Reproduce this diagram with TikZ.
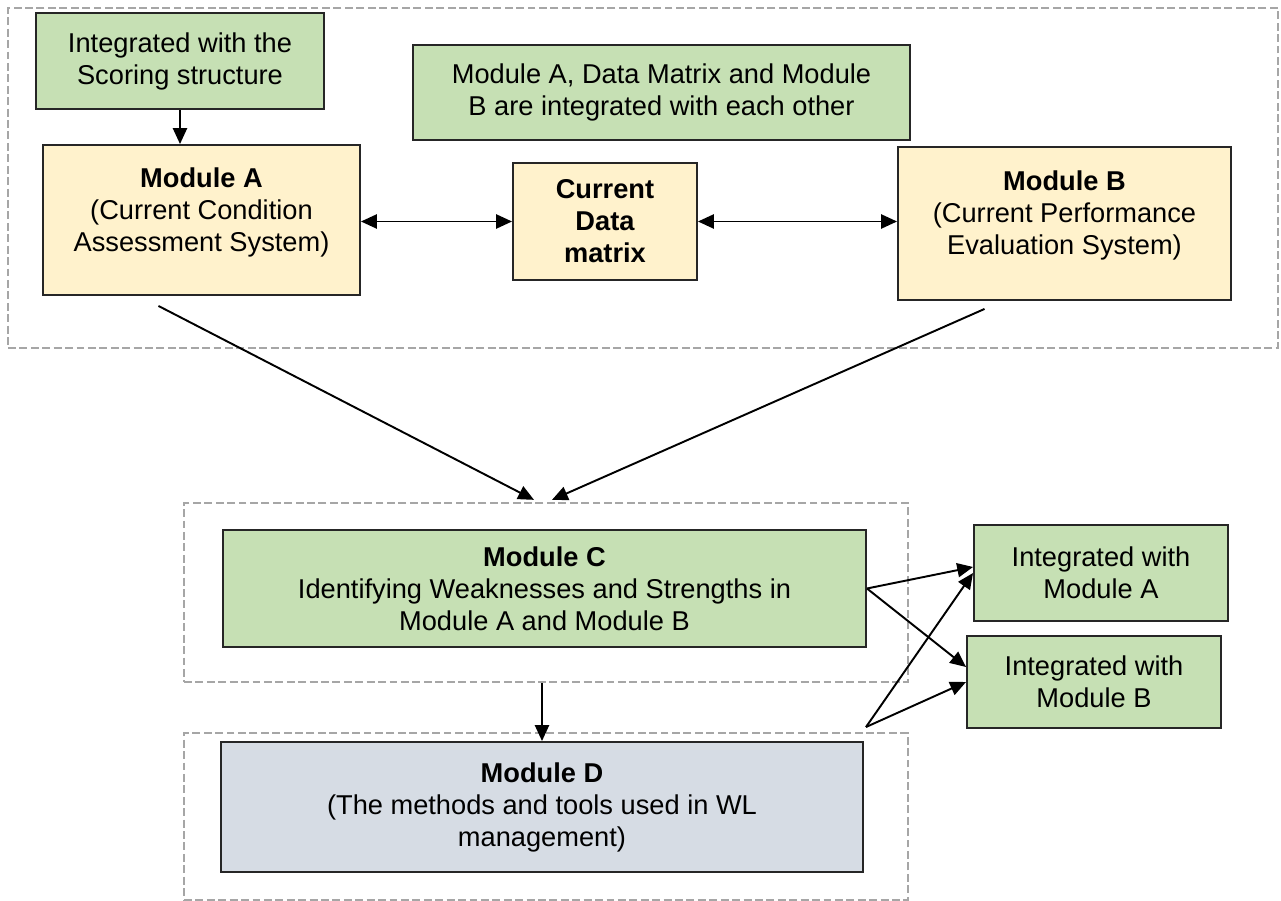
\documentclass[tikz,border=0pt]{standalone}
\usepackage{fontspec}
\setmainfont{Liberation Sans}
\usepackage{xcolor}
\usepackage{tikz}
\usetikzlibrary{arrows.meta,calc}
\definecolor{boxgreen}{HTML}{C6E0B4}
\definecolor{boxyellow}{HTML}{FFF2CC}
\definecolor{boxgrey}{HTML}{D6DCE4}
\definecolor{framegrey}{HTML}{A6A6A6}

\begin{document}
\begin{tikzpicture}[x=0.02cm,y=-0.02cm,font=\fontsize{15.5}{18.2}\selectfont,
  box/.style={draw=black!85,line width=1.1pt,align=center,inner sep=0pt},
  frame/.style={draw=framegrey,line width=1.3pt,dash pattern=on 4.5pt off 2pt,inner sep=0pt},
  link/.style={line width=1.1pt,-{Triangle[length=9pt,width=8pt]}},
  both/.style={line width=1.1pt,{Triangle[length=9pt,width=8pt]}-{Triangle[length=9pt,width=8pt]}}]
\useasboundingbox (0,0) rectangle (1281,901);
% dashed groups
\node[frame,minimum width=1270*0.02cm,minimum height=340*0.02cm] (grpTop) at (643,178) {};
\node[frame,minimum width=724*0.02cm,minimum height=179*0.02cm] (grpC) at (546,592.5) {};
\node[frame,minimum width=724*0.02cm,minimum height=167*0.02cm] (grpD) at (546,816.5) {};

% boxes
\node[box,fill=boxgreen,minimum width=288*0.02cm,minimum height=96*0.02cm] (score) at (180,61)
  {Integrated with the\\Scoring structure};
\node[box,fill=boxyellow,minimum width=317*0.02cm,minimum height=150*0.02cm] (modA) at (201.5,220)
  {\textbf{Module A}\\(Current Condition\\Assessment System)\\[-6pt]\mbox{}};
\node[box,fill=boxgreen,minimum width=497*0.02cm,minimum height=95*0.02cm] (note) at (661.5,92.5)
  {Module A, Data Matrix and Module\\B are integrated with each other};
\node[box,fill=boxyellow,minimum width=184*0.02cm,minimum height=117*0.02cm,font=\fontsize{15.5}{18.2}\selectfont\bfseries] (dm) at (605,221.5)
  {Current\\Data\\matrix};
\node[box,fill=boxyellow,minimum width=333*0.02cm,minimum height=153*0.02cm] (modB) at (1064.5,223.5)
  {\textbf{Module B}\\(Current Performance\\Evaluation System)\\[-6pt]\mbox{}};
\node[box,fill=boxgreen,minimum width=643*0.02cm,minimum height=117*0.02cm] (modC) at (544.5,588.5)
  {\textbf{Module C}\\Identifying Weaknesses and Strengths in\\Module A and Module B};
\node[box,fill=boxgrey,minimum width=642*0.02cm,minimum height=130*0.02cm] (modD) at (542,807)
  {\textbf{Module D}\\(The methods and tools used in WL\\management)};
\node[box,fill=boxgreen,minimum width=254*0.02cm,minimum height=96*0.02cm] (intA) at (1101,573)
  {Integrated with\\Module A};
\node[box,fill=boxgreen,minimum width=254*0.02cm,minimum height=92*0.02cm] (intB) at (1094,682)
  {Integrated with\\Module B};

% connectors
\draw[link] (score.south) -- (score.south |- modA.north);
\draw[both] (dm.west -| modA.east) -- (dm.west);
\draw[both] (dm.east) -- (dm.east -| modB.west);
\draw[link] ($(modA.south)+(-43,10)$) -- ($(grpC.north)+(-12,-2)$);
\draw[link] ($(modB.south)+(-80,8)$) -- ($(grpC.north)+(6,-2)$);
\draw[link] (grpC.south -| modD) -- (modD.north);
\draw[link] (modC.east) -- ($(intA.west)+(0,-6)$);
\draw[link] (modC.east) -- ($(intB.west)+(0,-15)$);
\coordinate (dOut) at ($(modD.north east)+(2,-14)$);
\draw[link] (dOut) -- (intA.west);
\draw[link] (dOut) -- (intB.west);
\end{tikzpicture}
\end{document}
